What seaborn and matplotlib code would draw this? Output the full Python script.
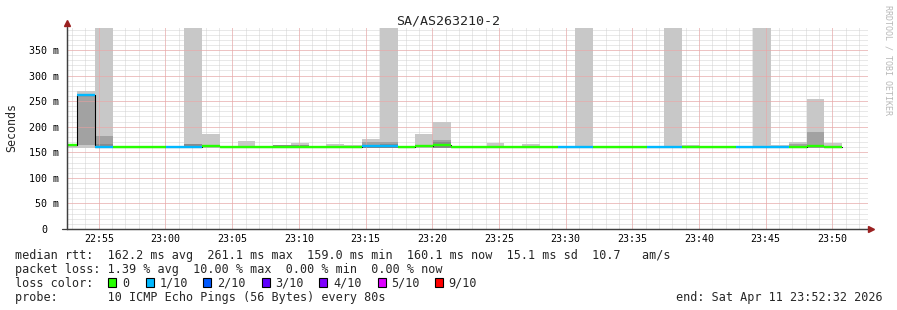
import numpy as np
import pandas as pd
import matplotlib
matplotlib.use("Agg")
import matplotlib.pyplot as plt
from matplotlib.patches import Rectangle
from matplotlib.lines import Line2D
from matplotlib.ticker import MultipleLocator, FixedLocator, FuncFormatter
import seaborn as sns

# ---------------- data ----------------
STEP_S = 80                 # seconds per probe round
FIRST_STEP_START_S = -176   # start of first visible round, seconds relative to 22:55:00

median_ms = [164, 261.1, 160.6, 160, 160, 160, 160, 160, 162.5, 160,
             160, 160, 160, 161, 160, 160, 160, 161.5, 161.5, 160,
             161.5, 165, 160, 160, 160, 160, 160, 160, 160, 160,
             160, 160, 160, 160, 160, 160, 160, 160, 160, 160,
             160.1, 161, 162.5, 160.1]

loss_tenths = [0, 1, 1, 0, 0, 0, 1, 1, 0, 0,
               0, 0, 0, 0, 0, 0, 0, 1, 1, 0,
               0, 0, 0, 0, 0, 0, 0, 0, 1, 1,
               0, 0, 0, 1, 1, 0, 0, 0, 1, 1,
               1, 0, 0, 0]

smoke_min_ms = [159, 159, 159, 159, 159, 159, 159, 159, 159, 159,
                159, 159, 159, 159, 159, 159, 159, 159, 159, 159,
                159, 159, 159, 159, 159, 159, 159, 159, 159, 159,
                159, 159, 159, 159, 159, 159, 159, 159, 159, 159,
                159, 159, 159, 159]

smoke_max_ms = [166, 270, 400, 163, 163, 160, 160, 400, 185, 160,
                172, 160, 164, 169, 160, 166, 164, 175, 400, 160,
                185, 209, 160, 160, 168, 160, 166, 160, 160, 400,
                160, 160, 160, 160, 400, 164, 160, 160, 160, 400,
                164, 170, 254, 168]

smoke_mid_lo_ms = [159, 165, 159, 159, 159, 159, 159, 159, 159, 159,
                   159, 159, 159, 159, 159, 159, 159, 159, 159, 159,
                   159, 159, 159, 159, 159, 159, 159, 159, 159, 159,
                   159, 159, 159, 159, 159, 159, 159, 159, 159, 159,
                   159, 159, 159, 159]

smoke_mid_hi_ms = [159, 261, 181, 159, 159, 159, 159, 159, 159, 159,
                   159, 159, 159, 159, 159, 159, 159, 170, 171, 159,
                   159, 174, 159, 159, 159, 159, 159, 159, 159, 159,
                   159, 159, 159, 159, 159, 159, 159, 159, 159, 159,
                   159, 166, 190, 159]

smoke_core_hi_ms = [159, 159, 166, 159, 159, 159, 159, 167, 159, 159,
                    159, 159, 163.5, 165, 159, 159, 159, 165, 167, 159,
                    159, 170, 159, 159, 159, 159, 159, 159, 159, 159,
                    159, 159, 159, 159, 159, 159, 159, 159, 159, 159,
                    159, 159, 159, 159]

time_labels = ["22:55", "23:00", "23:05", "23:10", "23:15", "23:20",
               "23:25", "23:30", "23:35", "23:40", "23:45", "23:50"]
y_ticks_ms = [0, 50, 100, 150, 200, 250, 300, 350]

loss_levels = [0, 1, 2, 3, 4, 5, 9]
loss_labels = ["0", "1/10", "2/10", "3/10", "4/10", "5/10", "9/10"]
loss_palette = ["#26ff00", "#00b8ff", "#0059ff", "#5e00ff", "#7e00ff", "#dd00ff", "#ff0000"]

title = "SA/AS263210-2"
line_rtt = "median rtt:  162.2 ms avg  261.1 ms max  159.0 ms min  160.1 ms now  15.1 ms sd  10.7   am/s"
line_loss = "packet loss: 1.39 % avg  10.00 % max  0.00 % min  0.00 % now"
line_color = "loss color:"
line_probe = "probe:       10 ICMP Echo Pings (56 Bytes) every 80s"
line_end = "end: Sat Apr 11 23:52:32 2026"

# ---------------- figure ----------------
W, H, DPI = 897, 310, 100
sns.set_style("white")
plt.rcParams['font.family'] = ['DejaVu Sans Mono', 'DejaVu Sans']
fig = plt.figure(figsize=(W / DPI, H / DPI), dpi=DPI)
fig.patch.set_facecolor("white")


def fx(px):
    return px / W


def fy(py):
    return 1 - py / H


AX_L, AX_R, AX_T, AX_B = 67, 868, 28, 229
ax = fig.add_axes([fx(AX_L), fy(AX_B), (AX_R - AX_L) / W, (AX_B - AX_T) / H])
ax.set_facecolor("white")

n = len(median_ms)
step_start = FIRST_STEP_START_S + STEP_S * np.arange(n)
med = np.array(median_ms, dtype=float)
smin = np.array(smoke_min_ms, dtype=float)
smax = np.array(smoke_max_ms, dtype=float)
mlo = np.array(smoke_mid_lo_ms, dtype=float)
mhi = np.array(smoke_mid_hi_ms, dtype=float)
chi = np.array(smoke_core_hi_ms, dtype=float)

# smoke
ax.bar(step_start, np.maximum(smax - smin, 0), bottom=smin, width=STEP_S, align='edge',
       color='#c8c8c8', linewidth=0, zorder=1)
ax.bar(step_start, np.maximum(mhi - mlo, 0), bottom=mlo, width=STEP_S, align='edge',
       color='#a2a2a2', linewidth=0, zorder=1.1)
ax.bar(step_start, np.maximum(chi - smin, 0), bottom=smin, width=STEP_S, align='edge',
       color='#8a8a8a', linewidth=0, zorder=1.2)

# median thin black step line (seaborn)
df = pd.DataFrame({"t": np.append(step_start, step_start[-1] + STEP_S),
                   "median": np.append(med, med[-1])})
sns.lineplot(data=df, x="t", y="median", drawstyle="steps-post", color="black",
             linewidth=0.8, estimator=None, ax=ax, zorder=3)

# median colored by loss
color_of = dict(zip(loss_levels, loss_palette))
ax.hlines(med, step_start, step_start + STEP_S,
          colors=[color_of[k] for k in loss_tenths], linewidth=1.7, zorder=4)

# axes ranges / ticks
XMIN, XMAX, YMAX = -143, 3460, 393
ax.set_xlim(XMIN, XMAX)
ax.set_ylim(0, YMAX)
tick_pos = [((int(s[:2]) * 60 + int(s[3:])) - (22 * 60 + 55)) * 60 for s in time_labels]
ax.set_xticks(tick_pos)
ax.set_xticklabels(time_labels)
ax.xaxis.set_minor_locator(MultipleLocator(60))
ax.yaxis.set_major_locator(FixedLocator(y_ticks_ms))
ax.yaxis.set_minor_locator(MultipleLocator(10))
ax.yaxis.set_major_formatter(FuncFormatter(lambda v, _: "" if v == 0 else f"{int(v)} m"))
ax.set_xlabel("")
ax.set_ylabel("")

# minor grid below the smoke, major (red) grid on top of it
ax.set_axisbelow(True)
ax.grid(which='minor', axis='both', color='#d2d2d2', linewidth=0.72, linestyle=(0, (1, 1)))
ax.grid(which='major', axis='both', color='#d2d2d2', linewidth=0.72, linestyle=(0, (1, 1)))
dot = (0, (1, 1))
ax.vlines(tick_pos, 0, YMAX, colors='#f2a0a0', linewidth=0.72, linestyles=[dot], zorder=2.5)
ax.hlines([v for v in y_ticks_ms if v > 0], XMIN, XMAX, colors='#f2a0a0', linewidth=0.72,
          linestyles=[dot], zorder=2.5)

ax.tick_params(axis='x', which='major', length=2.5, width=0.72, color='#e07070',
               labelsize=7.2, pad=1.0, labelcolor='black')
ax.tick_params(axis='x', which='minor', length=1.5, width=0.72, color='#a0a0a0')
ax.tick_params(axis='y', which='major', length=3, width=0.72, color='#404040',
               labelsize=7.2, pad=2.5, labelcolor='black')
ax.tick_params(axis='y', which='minor', length=1.5, width=0.72, color='#a0a0a0')

for side in ("top", "right"):
    ax.spines[side].set_visible(False)
for side in ("left", "bottom"):
    ax.spines[side].set_color('#404040')
    ax.spines[side].set_linewidth(0.9)
    ax.spines[side].set_zorder(5)

# "0" label aligned with the digit column
ax.annotate("0", xy=(0, 0), xycoords=('axes fraction', 'data'),
            xytext=(-20 * 0.72, 0), textcoords='offset points',
            ha='right', va='center_baseline', fontsize=7.2, color='black')

# axis extensions and arrows
fig.add_artist(Line2D([fx(AX_L), fx(AX_L)], [fy(AX_B), fy(23)], color='#404040',
                      linewidth=0.9, transform=fig.transFigure))
fig.add_artist(Line2D([fx(62), fx(870)], [fy(AX_B), fy(AX_B)], color='#404040',
                      linewidth=0.9, transform=fig.transFigure))
fig.add_artist(Line2D([fx(AX_L)], [fy(23)], marker='^', markersize=4.5, color='#9a2020',
                      linestyle='none', transform=fig.transFigure))
fig.add_artist(Line2D([fx(871)], [fy(AX_B)], marker='>', markersize=4.5, color='#9a2020',
                      linestyle='none', transform=fig.transFigure))

# texts
fig.text(fx(448), fy(24.3), title, ha='center', va='baseline', fontsize=9.6)
fig.text(fx(12), fy(127.5), "Seconds", rotation=90, ha='center', va='center', fontsize=8.4)
fig.text(fx(888), fy(60), "RRDTOOL / TOBI OETIKER", rotation=270, ha='center', va='center',
         fontsize=6.0, color='#b8b8b8')

LX = 14.6
fs = 8.5
fig.text(fx(LX), fy(259), line_rtt, ha='left', va='baseline', fontsize=fs)
fig.text(fx(LX), fy(273), line_loss, ha='left', va='baseline', fontsize=fs)
fig.text(fx(LX), fy(287), line_color, ha='left', va='baseline', fontsize=fs)
fig.text(fx(LX), fy(301), line_probe, ha='left', va='baseline', fontsize=fs)
fig.text(fx(882.5), fy(301), line_end, ha='right', va='baseline', fontsize=fs)

square_x = [108.3, 145.7, 203.3, 261.7, 319.3, 377.7, 435.0]
for sx, lab, col in zip(square_x, loss_labels, loss_palette):
    fig.add_artist(Rectangle((fx(sx), fy(286.7)), 8 / W, 8.4 / H, facecolor=col,
                             edgecolor='black', linewidth=0.8, transform=fig.transFigure))
    fig.text(fx(sx + 13.7), fy(287), lab, ha='left', va='baseline', fontsize=fs)

fig.savefig("out.png", dpi=DPI, facecolor="white")
